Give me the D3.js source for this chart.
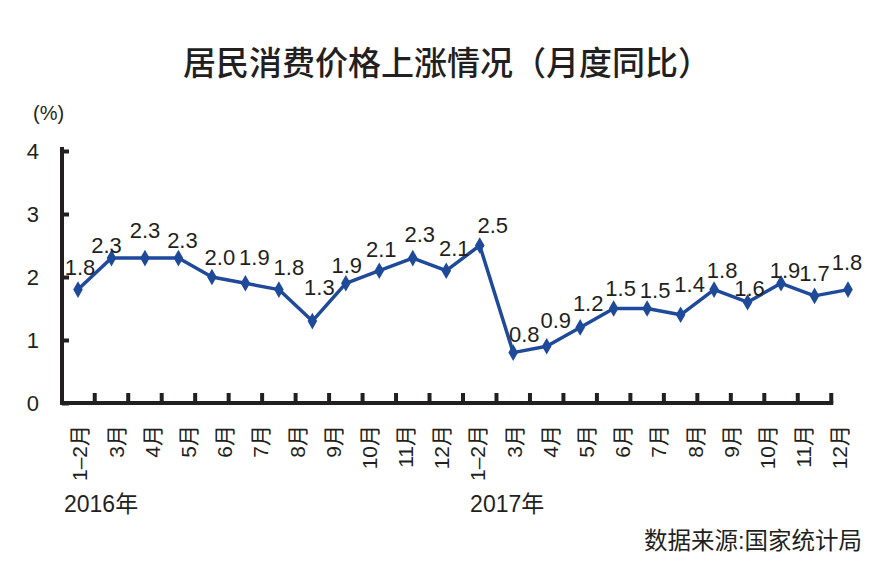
<!DOCTYPE html>
<html>
<head>
<meta charset="utf-8">
<script src="https://cdn.jsdelivr.net/npm/d3@7"></script>
<style>
  body { margin: 0; background: #fff; }
  svg text { font-family: "Liberation Sans", "Noto Sans CJK SC", sans-serif; fill: #231f20; }
</style>
</head>
<body>
<div id="chart"></div>
<script>
// monthly CPI, year on year (%)
var months = ["2016-01","2016-02","2016-03","2016-04","2016-05","2016-06","2016-07","2016-08","2016-09","2016-10","2016-11","2016-12",
              "2017-01","2017-02","2017-03","2017-04","2017-05","2017-06","2017-07","2017-08","2017-09","2017-10","2017-11","2017-12"];
var values = [1.8, 2.3, 2.3, 2.3, 2.0, 1.9, 1.8, 1.3, 1.9, 2.1, 2.3, 2.1,
              2.5, 0.8, 0.9, 1.2, 1.5, 1.5, 1.4, 1.8, 1.6, 1.9, 1.7, 1.8];
// axis labels under the chart (two groups of 11)
var tickLabels = ["1–2月","3月","4月","5月","6月","7月","8月","9月","10月","11月","12月",
                  "1–2月 ","3月 ","4月 ","5月 ","6月 ","7月 ","8月 ","9月 ","10月 ","11月 ","12月 "];
var years = ["2016年", "2017年"];
var yTicks = [0, 1, 2, 3, 4];

// small nudges for value labels so they sit like the original
var labelNudge = [[2,-15],[-5,-5],[0,-20],[4,-10],[8,-12],[9,-18],[10,-15],[7,-26],[1,-10],[2,-14],[7,-16],[8,-15],
                  [13,-13],[11,-11],[9,-18],[8,-16],[7,-13],[8,-11],[9,-23],[8,-12],[2,-6],[4,-5],[0,-15],[-1,-20]];

var width = 885, height = 566;
var lineColor = "#1f4a99";

var svg = d3.select("#chart").append("svg")
  .attr("width", width)
  .attr("height", height);

// scales
var x = d3.scalePoint().domain(months).range([78, 848]);
var xl = d3.scalePoint().domain(tickLabels).range([80, 840]);
var y = d3.scaleLinear().domain([0, 4]).range([403, 151]);
var axisX = 62;

// title
svg.append("text")
  .attr("x", 447).attr("y", 75)
  .attr("text-anchor", "middle")
  .style("font-size", "33px")
  .style("font-weight", 500)
  .text("居民消费价格上涨情况（月度同比）");

svg.append("text")
  .attr("x", 33).attr("y", 120)
  .style("font-size", "20px")
  .text("(%)");

// y axis
var yAxis = svg.append("g")
  .attr("transform", "translate(" + axisX + ",0)")
  .call(d3.axisLeft(y).tickValues(yTicks).tickFormat(d3.format("d")).tickSize(-7).tickSizeOuter(0).tickPadding(23));
yAxis.select(".domain").attr("stroke", "#231f20").attr("stroke-width", 4).attr("d", "M0," + (y(4) - 4) + "V" + (y(0) + 2));
yAxis.selectAll(".tick line").attr("stroke", "#231f20").attr("stroke-width", 4);
yAxis.selectAll(".tick text").style("font-size", "22px").attr("fill", "#231f20").attr("dy", "0.36em");

// x axis baseline with ticks between months
var step = x.step();
var lastTick = x(months[months.length - 2]) + step / 2;
svg.append("line")
  .attr("x1", axisX - 2).attr("x2", lastTick + 2)
  .attr("y1", y(0)).attr("y2", y(0))
  .attr("stroke", "#231f20").attr("stroke-width", 4);
svg.selectAll(".xtick")
  .data(months.slice(0, -1))
  .enter().append("line")
  .attr("class", "xtick")
  .attr("x1", d => x(d) + step / 2).attr("x2", d => x(d) + step / 2)
  .attr("y1", y(0)).attr("y2", y(0) - 10)
  .attr("stroke", "#231f20").attr("stroke-width", 4);

// month labels, rotated
svg.selectAll(".mlabel")
  .data(tickLabels)
  .enter().append("text")
  .attr("class", "mlabel")
  .attr("transform", d => "translate(" + xl(d) + ",425) rotate(-90)")
  .attr("text-anchor", "end")
  .attr("dy", "0.35em")
  .style("font-size", "21px")
  .text(d => d.trim());

// year labels
svg.selectAll(".year")
  .data(years)
  .enter().append("text")
  .attr("class", "year")
  .attr("x", (d, i) => xl(tickLabels[i * 11]) - (i === 0 ? 16 : 8))
  .attr("y", 512)
  .style("font-size", "23px")
  .text(d => d);

// line
var line = d3.line()
  .x((d, i) => x(months[i]))
  .y(d => y(d));

svg.append("path")
  .datum(values)
  .attr("fill", "none")
  .attr("stroke", lineColor)
  .attr("stroke-width", 3.5)
  .attr("stroke-linejoin", "round")
  .attr("d", line);

svg.selectAll(".pt")
  .data(values)
  .enter().append("path")
  .attr("class", "pt")
  .attr("transform", (d, i) => "translate(" + x(months[i]) + "," + y(d) + ")")
  .attr("d", d3.symbol(d3.symbolDiamond, 80))
  .attr("fill", lineColor);

// value labels
svg.selectAll(".val")
  .data(values)
  .enter().append("text")
  .attr("class", "val")
  .attr("x", (d, i) => x(months[i]) + labelNudge[i][0])
  .attr("y", (d, i) => y(d) + labelNudge[i][1])
  .attr("text-anchor", "middle")
  .style("font-size", "22px")
  .text(d => d.toFixed(1));

// source
svg.append("text")
  .attr("x", 862).attr("y", 549)
  .attr("text-anchor", "end")
  .style("font-size", "23.5px")
  .text("数据来源:国家统计局");
</script>
</body>
</html>
